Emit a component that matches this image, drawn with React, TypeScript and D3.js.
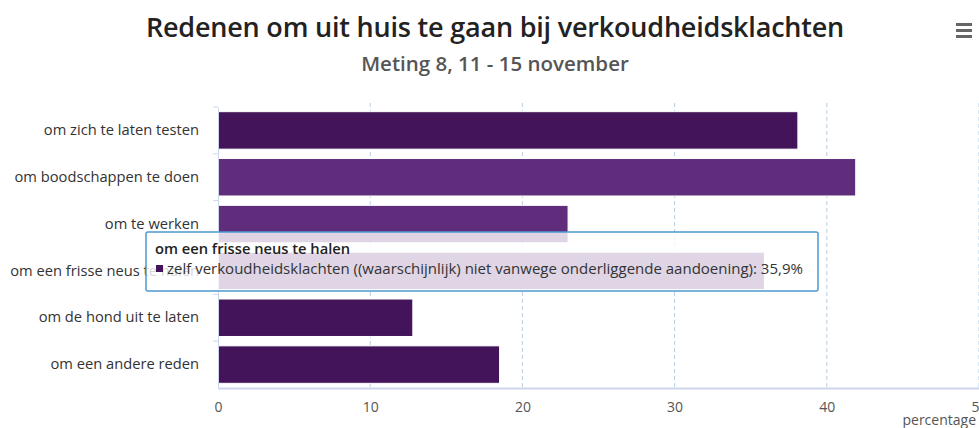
import React, { useEffect, useRef } from 'react';
import * as d3 from 'd3';

const categories = [
  'om zich te laten testen',
  'om boodschappen te doen',
  'om te werken',
  'om een frisse neus te halen',
  'om de hond uit te laten',
  'om een andere reden',
];
const values = [38.1, 41.9, 23.0, 35.9, 12.8, 18.5];
const barColors = ['#43145a', '#5f2d7c', '#5f2d7c', '#5f2d7c', '#43145a', '#43145a'];
const xTicks = [0, 10, 20, 30, 40, 50];

const tooltipTitle = 'om een frisse neus te halen';
const tooltipSeries = 'zelf verkoudheidsklachten ((waarschijnlijk) niet vanwege onderliggende aandoening)';
const tooltipValue = '35,9%';

const FONT = "'Open Sans', sans-serif";

const App = () => {
  const svgRef = useRef<SVGSVGElement>(null);

  useEffect(() => {
    const width = 979;
    const height = 428;
    const margin = { top: 107, right: 0, bottom: 40, left: 218 };

    const svg = d3.select(svgRef.current).attr('width', width).attr('height', height);
    svg.selectAll('*').remove();
    svg.append('rect').attr('width', width).attr('height', height).attr('fill', '#fff');

    const x = d3.scaleLinear().domain([0, 50]).range([margin.left, width - margin.right]);
    const y = d3
      .scaleBand()
      .domain(categories)
      .range([margin.top, height - margin.bottom])
      .paddingInner(0.2)
      .paddingOuter(0.1);

    // titel
    svg.append('text')
      .attr('x', 495).attr('y', 37)
      .attr('text-anchor', 'middle')
      .attr('font-family', FONT)
      .attr('font-weight', 600)
      .attr('font-size', 27)
      .attr('letter-spacing', -0.2)
      .attr('fill', '#222')
      .text('Redenen om uit huis te gaan bij verkoudheidsklachten');

    svg.append('text')
      .attr('x', 495).attr('y', 71)
      .attr('text-anchor', 'middle')
      .attr('font-family', FONT)
      .attr('font-weight', 600)
      .attr('font-size', 20.5)
      .attr('fill', '#555')
      .text('Meting 8, 11 - 15 november');

    // menu-icoon
    [0, 6, 12].forEach((d) => {
      svg.append('rect')
        .attr('x', 956).attr('y', 23 + d)
        .attr('width', 16).attr('height', 3)
        .attr('fill', '#666');
    });

    // rasterlijnen
    svg.append('g')
      .selectAll('line')
      .data(xTicks.filter((d) => d > 0))
      .join('line')
      .attr('x1', (d) => x(d)).attr('x2', (d) => x(d))
      .attr('y1', margin.top - 4).attr('y2', height - margin.bottom)
      .attr('stroke', '#b8cde0')
      .attr('stroke-width', 1)
      .attr('stroke-dasharray', '4,3');

    // balken
    svg.append('g')
      .selectAll('rect')
      .data(values)
      .join('rect')
      .attr('x', x(0))
      .attr('y', (_, i) => y(categories[i]) as number)
      .attr('width', (d) => x(d) - x(0))
      .attr('height', y.bandwidth())
      .attr('fill', (_, i) => barColors[i])
      .attr('stroke', '#fff')
      .attr('stroke-width', 1);

    // y-as
    const yAxis = svg.append('g')
      .attr('transform', `translate(${margin.left},0)`)
      .call(d3.axisLeft(y).tickSize(0).tickPadding(19));
    yAxis.select('.domain').attr('stroke', '#ccd6eb');
    yAxis.selectAll('text')
      .attr('font-family', FONT)
      .attr('font-size', 14.7)
      .attr('fill', '#333');
    yAxis.append('g')
      .selectAll('line')
      .data(categories)
      .join('line')
      .attr('x1', -5).attr('x2', 0)
      .attr('y1', (d) => (y(d) as number) - (y.step() - y.bandwidth()) / 2)
      .attr('y2', (d) => (y(d) as number) - (y.step() - y.bandwidth()) / 2)
      .attr('stroke', '#ccd6eb');

    // x-as
    const xAxis = svg.append('g')
      .attr('transform', `translate(0,${height - margin.bottom})`)
      .call(d3.axisBottom(x).tickValues(xTicks).tickSize(0).tickPadding(14));
    xAxis.select('.domain').attr('stroke', '#ccd6eb').attr('stroke-width', 2);
    xAxis.selectAll('text')
      .attr('font-family', FONT)
      .attr('font-size', 14)
      .attr('fill', '#555');

    svg.append('text')
      .attr('x', width - 3).attr('y', height - 3)
      .attr('text-anchor', 'end')
      .attr('font-family', FONT)
      .attr('font-size', 14)
      .attr('fill', '#555')
      .text('percentage');

    // tooltip
    const tip = svg.append('g').attr('transform', 'translate(146,232)');
    tip.append('rect')
      .attr('width', 672).attr('height', 59)
      .attr('rx', 2)
      .attr('fill', 'rgba(255,255,255,0.8)')
      .attr('stroke', '#4d9bd1')
      .attr('stroke-width', 1.5);
    tip.append('text')
      .attr('x', 9).attr('y', 22)
      .attr('font-family', FONT)
      .attr('font-weight', 600)
      .attr('font-size', 14.7)
      .attr('fill', '#222')
      .text(tooltipTitle);
    tip.append('rect')
      .attr('x', 10).attr('y', 33)
      .attr('width', 7).attr('height', 7)
      .attr('fill', '#43145a');
    tip.append('text')
      .attr('x', 21).attr('y', 42)
      .attr('font-family', FONT)
      .attr('font-size', 15)
      .attr('fill', '#333')
      .text(`${tooltipSeries}: ${tooltipValue}`);
  }, []);

  return <svg ref={svgRef} style={{ position: 'absolute', left: 0, top: 0 }}></svg>;
};

export default App;
